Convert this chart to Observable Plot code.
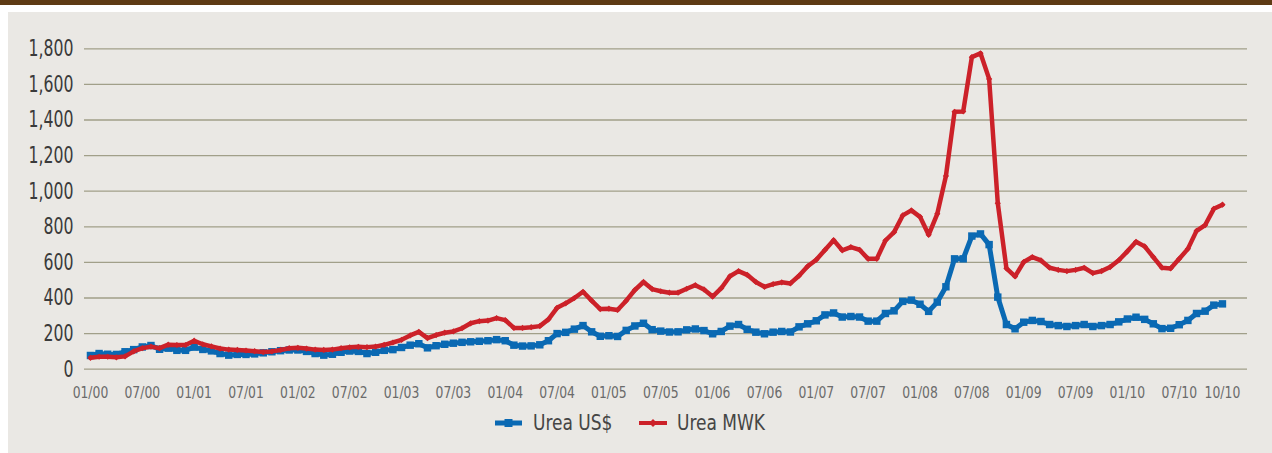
<!DOCTYPE html>
<html>
<head>
<meta charset="utf-8">
<script src="https://cdn.jsdelivr.net/npm/d3@7"></script>
<script src="https://cdn.jsdelivr.net/npm/@observablehq/plot@0.6"></script>
<style>
  html, body { margin: 0; padding: 0; background: #ffffff; }
  body { width: 1272px; height: 453px; overflow: hidden; position: relative;
         font-family: "Liberation Sans Narrow", "DejaVu Sans Condensed", "Roboto", sans-serif; }
  #bar { position: absolute; left: 0; top: 0; width: 1272px; height: 5px; background: #5e3b14; }
  #panel { position: absolute; left: 8px; top: 12px; width: 1264px; height: 441px; background: #eae8e4; }
  #chart svg { display: block; }
  .sw { position: absolute; top: 405px; display: block; }
  .lt { position: absolute; top: 398px; height: 26px; line-height: 26px; font-size: 22px; color: #454545;
        white-space: nowrap; transform: scaleX(0.86); transform-origin: 0 50%; }
</style>
</head>
<body>
<div id="bar"></div>
<div id="panel">
  <div id="chart"></div>
</div>
<script>
// Monthly categories, 01/2000 .. 12/2010
const categories = d3.utcMonth.range(new Date(Date.UTC(2000, 0, 1)), new Date(Date.UTC(2011, 0, 1)))
  .map(d3.utcFormat("%m/%y"));

// Urea price, US$ per tonne
const ureaUSD = [
  77, 88, 84, 83, 98, 110, 125, 133, 112, 118, 106, 106,
  124, 111, 103, 88, 79, 83, 83, 86, 92, 98, 104, 108,
  108, 100, 88, 79, 84, 95, 102, 100, 88, 95, 106, 110,
  122, 135, 143, 120, 132, 140, 146, 151, 154, 157, 160, 166,
  160, 135, 130, 131, 137, 160, 200, 207, 225, 245, 210, 185,
  188, 184, 218, 243, 258, 222, 214, 209, 210, 221, 226, 217,
  199, 212, 242, 251, 224, 208, 199, 208, 212, 209, 238, 255,
  272, 305, 316, 293, 296, 293, 270, 270, 313, 328, 381, 388,
  365, 325, 377, 463, 620, 620, 748, 760, 700, 405, 251, 227,
  264, 274, 268, 251, 245, 240, 245, 251, 240, 245, 251, 266,
  282, 292, 280, 255, 228, 230, 250, 274, 313, 326, 360, 367
];

// Urea price, MWK per tonne (as charted)
const ureaMWK = [
  64, 70, 70, 67, 72, 100, 118, 127, 118, 138, 136, 136,
  160, 140, 128, 116, 110, 108, 105, 101, 96, 100, 108, 118,
  120, 116, 110, 108, 110, 118, 123, 126, 124, 127, 137, 150,
  165, 190, 210, 175, 192, 205, 212, 230, 258, 270, 273, 287,
  276, 232, 232, 236, 242, 280, 345, 370, 400, 435, 385, 338,
  340, 333, 385, 445, 490, 450, 438, 430, 430, 452, 472, 448,
  408, 455, 522, 551, 530, 490, 463, 478, 488, 482, 525, 578,
  615, 670, 725, 668, 686, 671, 620, 620, 723, 770, 864, 892,
  856, 755, 873, 1086, 1446, 1448, 1753, 1775, 1631, 933, 567, 521,
  602, 630, 611, 570, 558, 551, 558, 570, 540, 551, 574, 612,
  662, 716, 690, 630, 570, 566, 620, 676, 777, 810, 901, 924
];

const seriesNames = ["Urea US$", "Urea MWK"];
const xTickIndex = [0, 6, 12, 18, 24, 30, 36, 42, 48, 54, 60, 66, 72, 78, 84, 90, 96, 102, 108, 114, 120, 126, 131];
const xTickLabels = ["01/00", "07/00", "01/01", "07/01", "01/02", "07/02", "01/03", "07/03", "01/04", "07/04",
  "01/05", "07/05", "01/06", "07/06", "01/07", "07/07", "01/08", "07/08", "01/09", "07/09", "01/10", "07/10", "10/10"];
const yTicks = [0, 200, 400, 600, 800, 1000, 1200, 1400, 1600, 1800];

const BLUE = "#0a69b3";
const RED = "#cc2129";

const rows = categories.map((c, i) => ({ i, cat: c, usd: ureaUSD[i], mwk: ureaMWK[i] }));
const labelMap = new Map(xTickIndex.map((d, k) => [d, xTickLabels[k]]));

const chart = Plot.plot({
  width: 1264,
  height: 400,
  marginLeft: 76,
  marginRight: 25,
  marginTop: 36.3,
  marginBottom: 43.3,
  style: { background: "transparent", fontFamily: "'Liberation Sans Narrow', 'DejaVu Sans Condensed', sans-serif", overflow: "visible" },
  x: { type: "linear", domain: [-0.69, 133.9] },
  y: { domain: [0, 1800] },
  marks: [
    Plot.gridY(yTicks, { stroke: "#a19f89", strokeOpacity: 1, strokeWidth: 1.3 }),
    Plot.axisY(yTicks, { tickSize: 0, tickPadding: 11, fontSize: 23, fill: "#3a3a3a", tickFormat: d3.format(","), label: null }),
    Plot.axisX(xTickIndex, { tickSize: 0, tickPadding: 17, fontSize: 16, fill: "#6b6b6b", tickFormat: d => labelMap.get(d), label: null }),
    Plot.line(rows, { x: "i", y: "usd", stroke: BLUE, strokeWidth: 5, strokeLinejoin: "round" }),
    Plot.dot(rows, { x: "i", y: "usd", symbol: "square", r: 4.2, fill: BLUE, stroke: "none" }),
    Plot.line(rows, { x: "i", y: "mwk", stroke: RED, strokeWidth: 4.5, strokeLinejoin: "round" }),
    Plot.dot(rows, { x: "i", y: "mwk", symbol: "diamond2", r: 2.8, fill: RED, stroke: "none" })
  ]
});
document.getElementById("chart").appendChild(chart);

// Narrow the tick labels horizontally to mimic the condensed typeface
function condense(selector, s) {
  chart.querySelectorAll(selector + " text").forEach(t => {
    const x = +(t.getAttribute("x") || 0);
    const tr = t.getAttribute("transform") || "";
    t.setAttribute("transform", `${tr} translate(${x},0) scale(${s},1) translate(${-x},0)`);
  });
}
condense('g[aria-label="y-axis tick label"]', 0.76);
condense('g[aria-label="x-axis tick label"]', 0.86);

// Legend (HTML, below the plot area, inside the panel)
const panel = document.getElementById("panel");
const swatches = [
  `<svg class="sw" style="left:487px" width="27" height="12"><line x1="0" y1="6" x2="27" y2="6" stroke="${BLUE}" stroke-width="5"/><rect x="9.5" y="2" width="8" height="8" fill="${BLUE}"/></svg>`,
  `<svg class="sw" style="left:631px" width="28" height="12"><line x1="0" y1="6" x2="28" y2="6" stroke="${RED}" stroke-width="4"/><path d="M14 2 L18 6 L14 10 L10 6 Z" fill="${RED}"/></svg>`
];
const textLeft = [525, 669];
seriesNames.forEach((name, k) => {
  panel.insertAdjacentHTML("beforeend", swatches[k] + `<span class="lt" style="left:${textLeft[k]}px">${name}</span>`);
});
</script>
</body>
</html>
